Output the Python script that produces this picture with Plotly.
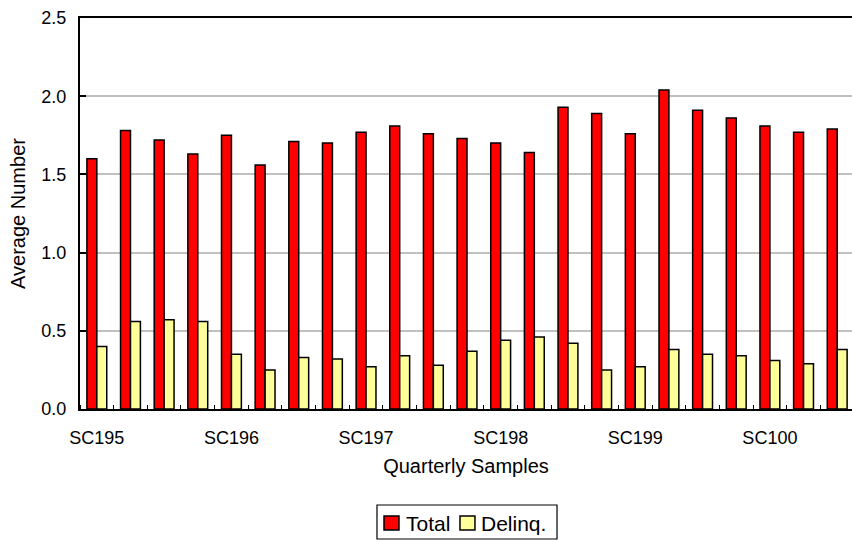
import plotly.graph_objects as go

# Quarterly sample groups (23 quarters), label shown on the first quarter of each year
quarters = list(range(23))
tick_positions = [0, 4, 8, 12, 16, 20]
tick_labels = ["SC195", "SC196", "SC197", "SC198", "SC199", "SC100"]

# Average number of accounts per sample
total = [1.60, 1.78, 1.72, 1.63, 1.75, 1.56, 1.71, 1.70, 1.77, 1.81, 1.76, 1.73,
         1.70, 1.64, 1.93, 1.89, 1.76, 2.04, 1.91, 1.86, 1.81, 1.77, 1.79]
delinq = [0.40, 0.56, 0.57, 0.56, 0.35, 0.25, 0.33, 0.32, 0.27, 0.34, 0.28, 0.37,
          0.44, 0.46, 0.42, 0.25, 0.27, 0.38, 0.35, 0.34, 0.31, 0.29, 0.38]

series_names = ["Total", "Delinq."]
series_colors = ["#FF0000", "#FFFF99"]

FONT = "Liberation Sans, Arial, sans-serif"

fig = go.Figure()
for name, values, color in zip(series_names, [total, delinq], series_colors):
    fig.add_trace(go.Bar(
        x=quarters, y=values, name=name, showlegend=False,
        marker=dict(color=color, line=dict(color="black", width=1.5)),
    ))

# Boxed legend below the axis title (paper coordinates)
fig.add_shape(type="rect", xref="paper", yref="paper",
              x0=0.3847, x1=0.6179, y0=-0.3325, y1=-0.2455,
              line=dict(color="black", width=1.2), fillcolor="white")
swatch_x = [0.3938, 0.4922]
label_x = [0.4197, 0.5168]
for sx, lx, name, color in zip(swatch_x, label_x, series_names, series_colors):
    fig.add_shape(type="rect", xref="paper", yref="paper",
                  x0=sx, x1=sx + 0.0194, y0=-0.3095, y1=-0.2737,
                  line=dict(color="black", width=1.5), fillcolor=color)
    fig.add_annotation(xref="paper", yref="paper", x=lx, y=-0.2916,
                       xanchor="left", yanchor="middle", showarrow=False,
                       text=name, font=dict(size=21))

fig.update_layout(
    width=852, height=540,
    margin=dict(l=80, r=0, t=18, b=131, autoexpand=False),
    paper_bgcolor="white", plot_bgcolor="white",
    barmode="group", bargap=0.41, bargroupgap=0,
    font=dict(family=FONT, size=18, color="black"),
    xaxis=dict(
        range=[-0.5, 22.44],
        tickmode="array", tickvals=tick_positions, ticktext=tick_labels,
        ticks="", showgrid=False, zeroline=False, ticklabelstandoff=11,
        showline=True, linecolor="black", linewidth=2, mirror=True,
        minor=dict(tick0=0.5, dtick=1, ticks="inside", ticklen=4,
                   tickcolor="black", tickwidth=1, showgrid=False),
        title=dict(text="Quarterly Samples", font=dict(size=20), standoff=12),
        tickfont=dict(size=18),
    ),
    yaxis=dict(
        range=[0, 2.5], dtick=0.5, tickformat=".1f",
        ticks="inside", ticklen=6, tickcolor="black", tickwidth=1.5,
        showgrid=True, gridcolor="#C0C0C0", gridwidth=1.5,
        zeroline=False, showline=True, linecolor="black", linewidth=2,
        ticklabelstandoff=8,
        title=dict(text="Average Number", font=dict(size=20), standoff=10),
        tickfont=dict(size=18),
    ),
)

fig.write_html("out.html")
